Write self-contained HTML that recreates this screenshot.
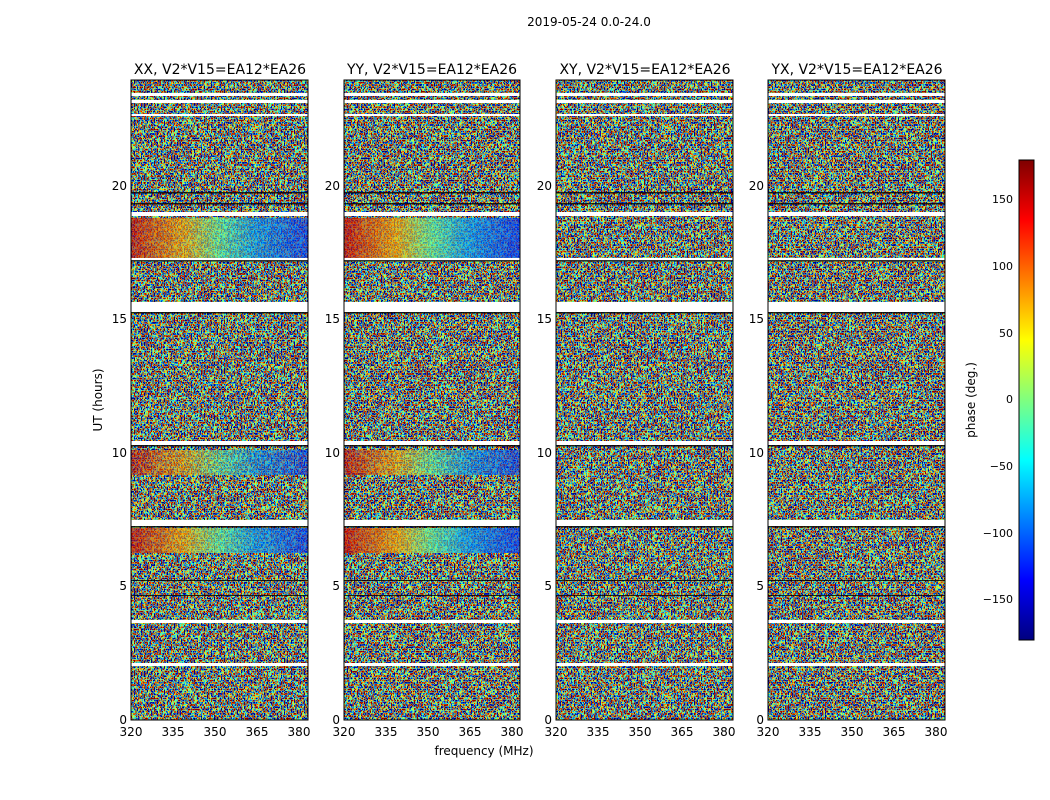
<!DOCTYPE html>
<html><head><meta charset="utf-8"><style>body{margin:0;background:#fff}svg{display:block;font-family:"DejaVu Sans","Liberation Sans",sans-serif}</style></head><body>
<svg width="1050" height="800" viewBox="0 0 1050 800" xmlns="http://www.w3.org/2000/svg">
<defs>
<filter id="n1" x="0" y="0" width="100%" height="100%" color-interpolation-filters="sRGB">
<feTurbulence type="fractalNoise" baseFrequency="0.7 0.45" numOctaves="1" seed="3"/>
<feColorMatrix type="matrix" values="3.6 0 0 0 -1.3  3.6 0 0 0 -1.3  3.6 0 0 0 -1.3  0 0 0 0 1"/>
<feComponentTransfer><feFuncR type="table" tableValues="0 0 0 0 0.5 1 1 1 0.5"/><feFuncG type="table" tableValues="0 0 0.5 1 1 1 0.5 0 0"/><feFuncB type="table" tableValues="0.5 1 1 1 0.5 0 0 0 0"/></feComponentTransfer>
</filter>
<filter id="n2" x="0" y="0" width="100%" height="100%" color-interpolation-filters="sRGB">
<feTurbulence type="fractalNoise" baseFrequency="0.7 0.45" numOctaves="1" seed="11"/>
<feColorMatrix type="matrix" values="3.6 0 0 0 -1.3  3.6 0 0 0 -1.3  3.6 0 0 0 -1.3  0 0 0 0 1"/>
<feComponentTransfer><feFuncR type="table" tableValues="0 0 0 0 0.5 1 1 1 0.5"/><feFuncG type="table" tableValues="0 0 0.5 1 1 1 0.5 0 0"/><feFuncB type="table" tableValues="0.5 1 1 1 0.5 0 0 0 0"/></feComponentTransfer>
</filter>
<linearGradient id="cb" x1="0" y1="1" x2="0" y2="0">
<stop offset="0" stop-color="#00007f"/><stop offset="0.125" stop-color="#0000ff"/><stop offset="0.375" stop-color="#00ffff"/><stop offset="0.625" stop-color="#ffff00"/><stop offset="0.875" stop-color="#ff0000"/><stop offset="1" stop-color="#7f0000"/></linearGradient>
<linearGradient id="band" x1="0" y1="0" x2="1" y2="0">
<stop offset="0" stop-color="#d00000"/><stop offset="0.3" stop-color="#ffb000"/><stop offset="0.5" stop-color="#60ffa0"/><stop offset="0.7" stop-color="#00a0ff"/><stop offset="1" stop-color="#0030ff"/></linearGradient>
<g id="stripes">
<g fill="#fff">
<rect x="0" y="13" width="100%" height="3"/><rect x="0" y="20" width="100%" height="3"/><rect x="0" y="34" width="100%" height="2"/>
<rect x="0" y="132" width="100%" height="4"/><rect x="0" y="178" width="100%" height="3"/><rect x="0" y="222" width="100%" height="10"/>
<rect x="0" y="361" width="100%" height="4"/><rect x="0" y="440" width="100%" height="6"/><rect x="0" y="540" width="100%" height="3"/><rect x="0" y="583" width="100%" height="3"/></g>
<g fill="#000" opacity="0.8">
<rect x="0" y="112" width="100%" height="1.5"/><rect x="0" y="123" width="100%" height="1.5"/><rect x="0" y="180" width="100%" height="1.5"/><rect x="0" y="232" width="100%" height="1.5"/><rect x="0" y="365" width="100%" height="1.5"/><rect x="0" y="446" width="100%" height="1.5"/><rect x="0" y="500" width="100%" height="1"/><rect x="0" y="515" width="100%" height="1"/></g>
</g>
</defs>
<text x="589" y="26" font-size="12" text-anchor="middle">2019-05-24 0.0-24.0</text>
<g>
<rect x="131" y="80" width="177" height="640" filter="url(#n1)"/>
<rect x="131" y="218" width="177" height="40" fill="url(#band)" opacity="0.6"/>
<rect x="131" y="450" width="177" height="25" fill="url(#band)" opacity="0.5"/>
<rect x="131" y="528" width="177" height="25" fill="url(#band)" opacity="0.6"/>
<svg x="131" y="80" width="177" height="640"><use href="#stripes"/></svg>
<rect x="131" y="80" width="177" height="640" fill="none" stroke="#000"/>
</g>
<g>
<rect x="344" y="80" width="176" height="640" filter="url(#n2)"/>
<rect x="344" y="218" width="176" height="40" fill="url(#band)" opacity="0.65"/>
<rect x="344" y="450" width="176" height="25" fill="url(#band)" opacity="0.55"/>
<rect x="344" y="528" width="176" height="25" fill="url(#band)" opacity="0.65"/>
<svg x="344" y="80" width="176" height="640"><use href="#stripes"/></svg>
<rect x="344" y="80" width="176" height="640" fill="none" stroke="#000"/>
</g>
<g>
<rect x="556" y="80" width="177" height="640" filter="url(#n1)" transform="translate(1289 0) scale(-1 1)"/>
<svg x="556" y="80" width="177" height="640"><use href="#stripes"/></svg>
<rect x="556" y="80" width="177" height="640" fill="none" stroke="#000"/>
</g>
<g>
<rect x="768" y="80" width="177" height="640" filter="url(#n2)" transform="translate(1713 0) scale(-1 1)"/>
<svg x="768" y="80" width="177" height="640"><use href="#stripes"/></svg>
<rect x="768" y="80" width="177" height="640" fill="none" stroke="#000"/>
</g>
<g font-size="14" text-anchor="middle">
<text x="220" y="74">XX, V2*V15=EA12*EA26</text>
<text x="432" y="74">YY, V2*V15=EA12*EA26</text>
<text x="645" y="74">XY, V2*V15=EA12*EA26</text>
<text x="857" y="74">YX, V2*V15=EA12*EA26</text>
</g>
<g font-size="12" text-anchor="end">
<text x="127" y="724">0</text><text x="127" y="590">5</text><text x="127" y="457">10</text><text x="127" y="323">15</text><text x="127" y="190">20</text>
<text x="340" y="724">0</text><text x="340" y="590">5</text><text x="340" y="457">10</text><text x="340" y="323">15</text><text x="340" y="190">20</text>
<text x="552" y="724">0</text><text x="552" y="590">5</text><text x="552" y="457">10</text><text x="552" y="323">15</text><text x="552" y="190">20</text>
<text x="764" y="724">0</text><text x="764" y="590">5</text><text x="764" y="457">10</text><text x="764" y="323">15</text><text x="764" y="190">20</text>
</g>
<g font-size="12" text-anchor="middle">
<text x="131" y="736">320</text><text x="173" y="736">335</text><text x="215" y="736">350</text><text x="257" y="736">365</text><text x="299" y="736">380</text>
<text x="344" y="736">320</text><text x="386" y="736">335</text><text x="428" y="736">350</text><text x="470" y="736">365</text><text x="512" y="736">380</text>
<text x="556" y="736">320</text><text x="598" y="736">335</text><text x="640" y="736">350</text><text x="682" y="736">365</text><text x="724" y="736">380</text>
<text x="768" y="736">320</text><text x="810" y="736">335</text><text x="852" y="736">350</text><text x="894" y="736">365</text><text x="936" y="736">380</text>
</g>
<text x="484" y="755" font-size="12" text-anchor="middle">frequency (MHz)</text>
<text transform="translate(102 400) rotate(-90)" font-size="12" text-anchor="middle">UT (hours)</text>
<rect x="1019" y="160" width="15" height="480" fill="url(#cb)" stroke="#000"/>
<g font-size="11" text-anchor="end">
<text x="1013" y="203">150</text><text x="1013" y="270">100</text><text x="1013" y="337">50</text><text x="1013" y="403">0</text>
<text x="1013" y="470">−50</text><text x="1013" y="537">−100</text><text x="1013" y="603">−150</text>
</g>
<text transform="translate(975 400) rotate(-90)" font-size="12" text-anchor="middle">phase (deg.)</text>
</svg>
</body></html>
